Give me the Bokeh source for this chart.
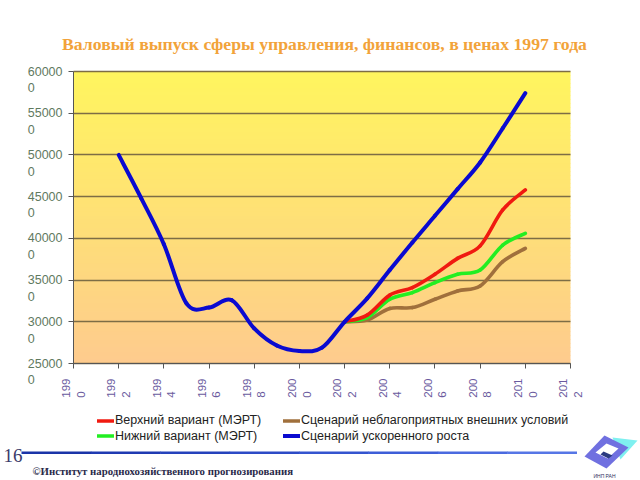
import math
from bokeh.plotting import figure
from bokeh.models import (Range1d, FixedTicker, BoxAnnotation, PolyAnnotation, Legend,
                          LegendItem, Label)
from bokeh.embed import file_html
from bokeh.resources import INLINE

# ---------------- data ----------------
title_text = "Валовый выпуск сферы управления, финансов, в ценах 1997 года"
years_fast = list(range(1992, 2011))
fast = [500000, 448000, 393000, 322000, 317000, 326000, 292000, 271500, 265000, 269000,
        300000, 328000, 362000, 395000, 427000, 459000, 491000, 532000, 574000]
years_mert = list(range(2002, 2011))
upper = [300000, 308000, 332000, 341000, 357000, 376000, 391000, 434000, 458000]
lower = [300000, 305000, 327000, 335000, 347000, 357000, 362000, 392000, 406000]
adverse = [300000, 302000, 316000, 317000, 327000, 337000, 343000, 372000, 388000]
x_ticks = list(range(1990, 2013, 2))
y_ticks = list(range(250000, 600001, 50000))
name_upper = "Верхний вариант (МЭРТ)"
name_adverse = "Сценарий неблагоприятных внешних условий"
name_lower = "Нижний вариант (МЭРТ)"
name_fast = "Сценарий ускоренного роста"
page_number = "16"
footer_text = "©Институт народнохозяйственного прогнозирования"
logo_text = "ИНП РАН"

# ---------------- layout ----------------
W, H = 640, 480
# plot area inside the canvas (pixels from the top-left)
PL, PT, PR, PB = 73, 71, 570, 363
X0, X1 = x_ticks[0], x_ticks[-1]
Y0, Y1 = y_ticks[0], y_ticks[-1]
xs_per_px = (X1 - X0) / (PR - PL)
ys_per_px = (Y1 - Y0) / (PB - PT)

p = figure(width=W, height=H, output_backend="svg", toolbar_location=None,
           x_range=Range1d(X0 - PL * xs_per_px, X1 + (W - PR) * xs_per_px),
           y_range=Range1d(Y0 - (H - PB) * ys_per_px, Y1 + PT * ys_per_px),
           min_border=0, min_border_left=0, min_border_right=0,
           min_border_top=0, min_border_bottom=0)
p.title.visible = False
p.outline_line_color = None
p.border_fill_color = "white"
p.background_fill_color = "white"


def sx(px):
    return px


def sy(py):
    return H - py


# gradient background of the plot area (decorative)
top_c = (255, 245, 94)
bot_c = (254, 203, 142)
N = 73
for i in range(N):
    t = (i + 0.5) / N
    c = tuple(int(round(bot_c[k] + (top_c[k] - bot_c[k]) * t)) for k in range(3))
    b = Y0 + (Y1 - Y0) * i / N
    tp = Y0 + (Y1 - Y0) * (i + 1) / N
    p.add_layout(BoxAnnotation(left=X0, right=X1, bottom=b, top=min(tp + 600, Y1),
                               fill_color="#%02x%02x%02x" % c, fill_alpha=1.0,
                               line_alpha=0, level="image"))

NB = "\u00a0"  # keeps the wrapped remainder of a label at the start of its line


def wrap_label(s, n):
    head, tail = s[:n], s[n:]
    pad = NB * (2 * (len(head) - len(tail)))
    return head + "\n" + tail + pad


# axes drawn at fixed locations
p.xaxis.fixed_location = Y0
p.yaxis.fixed_location = X0
p.xaxis.bounds = (X0, X1)
p.yaxis.bounds = (Y0, Y1)
p.xaxis.ticker = FixedTicker(ticks=x_ticks)
p.xaxis.major_label_overrides = {t: wrap_label(str(t), 3) for t in x_ticks}
p.xaxis.major_label_orientation = math.pi / 2
p.xaxis.major_label_text_font = "Liberation Sans"
p.xaxis.major_label_text_font_size = "11.5px"
p.xaxis.major_label_text_color = "#6a5a9e"
p.xaxis.major_label_standoff = 10
p.yaxis.ticker = FixedTicker(ticks=y_ticks)
p.yaxis.major_label_overrides = {v: "\n" + wrap_label(str(v), 5) for v in y_ticks}
p.yaxis.major_label_text_font = "Liberation Sans"
p.yaxis.major_label_text_font_size = "12.5px"
p.yaxis.major_label_text_color = "#5f7a5f"
p.yaxis.major_label_standoff = 6
for ax in (p.xaxis, p.yaxis):
    ax.axis_line_color = "#555555"
    ax.major_tick_line_color = "#555555"
    ax.major_tick_out = 5
    ax.major_tick_in = 0
    ax.minor_tick_line_color = None
p.xgrid.visible = False

grid_ok = False
try:
    p.ygrid.cross_bounds = (X0, X1)
    p.ygrid.bounds = (Y0, Y1)
    grid_ok = True
except Exception:
    grid_ok = False
if grid_ok:
    p.ygrid.ticker = FixedTicker(ticks=y_ticks)
    p.ygrid.grid_line_color = "#7d6d45"
    p.ygrid.grid_line_width = 1.3
else:
    p.ygrid.visible = False
    p.segment(x0=[X0] * len(y_ticks), x1=[X1] * len(y_ticks), y0=y_ticks, y1=y_ticks,
              line_color="#7d6d45", line_width=1.3)


def smooth(xs, ys):
    n = len(xs)
    d = dict(x0=[], y0=[], x1=[], y1=[], cx0=[], cy0=[], cx1=[], cy1=[])
    for i in range(n - 1):
        a = max(i - 1, 0)
        b = min(i + 2, n - 1)
        d["x0"].append(xs[i]); d["y0"].append(ys[i])
        d["x1"].append(xs[i + 1]); d["y1"].append(ys[i + 1])
        d["cx0"].append(xs[i] + (xs[i + 1] - xs[a]) / 6.0)
        d["cy0"].append(ys[i] + (ys[i + 1] - ys[a]) / 6.0)
        d["cx1"].append(xs[i + 1] - (xs[b] - xs[i]) / 6.0)
        d["cy1"].append(ys[i + 1] - (ys[b] - ys[i]) / 6.0)
    return d


def curve(xs, ys, color, width):
    return p.bezier(line_color=color, line_width=width, line_cap="round", **smooth(xs, ys))


r_adverse = curve(years_mert, adverse, "#a0703c", 3.6)
r_lower = curve(years_mert, lower, "#22ee22", 3.6)
r_upper = curve(years_mert, upper, "#f01a10", 3.6)
r_fast = curve(years_fast, fast, "#0a0ad0", 4.0)

# ---------------- legend (one box per entry, two columns) ----------------
def add_legend(label, renderer, px, py_center):
    lg = Legend(items=[LegendItem(label=label, renderers=[renderer])],
                location=(sx(px), sy(py_center + 7.5)),
                label_text_font="Liberation Sans", label_text_font_size="12.5px",
                label_text_color="#222222", glyph_width=17, glyph_height=15,
                label_height=15, label_standoff=1, spacing=0, padding=0, margin=0,
                border_line_color=None, background_fill_alpha=0)
    p.add_layout(lg, "center")


add_legend(name_upper, r_upper, 97, 420)
add_legend(name_lower, r_lower, 97, 435.5)
add_legend(name_adverse, r_adverse, 283, 420)
add_legend(name_fast, r_fast, 283, 435.5)

# ---------------- title ----------------
p.add_layout(Label(x=sx(324), y=sy(43), x_units="screen", y_units="screen", text=title_text,
                   text_align="center", text_baseline="middle", text_font="Liberation Serif",
                   text_font_style="bold", text_font_size="17.7px", text_color="#F2A33A"))

# ---------------- footer ----------------
p.add_layout(Label(x=sx(3), y=sy(455), x_units="screen", y_units="screen", text=page_number,
                   text_align="left", text_baseline="middle", text_font="Liberation Serif",
                   text_font_size="19px", text_color="#3a3a6a"))
line_cols = ["#1a34a8", "#1f3ab2", "#2542bc", "#2c4ac6", "#3454cf", "#3e5ed8",
             "#4a6ae0", "#5676e6"]
seg_w = (576 - 21) / len(line_cols)
for k, col in enumerate(line_cols):
    p.add_layout(BoxAnnotation(left=sx(21 + k * seg_w), right=sx(21 + (k + 1) * seg_w + 0.5),
                               top=sy(451), bottom=sy(453.5),
                               left_units="screen", right_units="screen",
                               bottom_units="screen", top_units="screen",
                               fill_color=col, fill_alpha=1.0, line_alpha=0))
p.add_layout(Label(x=sx(32), y=sy(470), x_units="screen", y_units="screen", text=footer_text,
                   text_align="left", text_baseline="middle", text_font="Liberation Serif",
                   text_font_style="bold", text_font_size="10.8px", text_color="#2a2a4a"))


def poly(pts, color):
    p.add_layout(PolyAnnotation(xs=[sx(a) for a, b in pts], ys=[sy(b) for a, b in pts],
                                xs_units="screen", ys_units="screen",
                                fill_color=color, fill_alpha=1.0, line_alpha=0))


poly([(612, 437), (637, 440), (620, 459)], "#7ff0f0")
poly([(584, 456), (604, 435), (628, 447), (606, 468)], "#7070e0")
poly([(595, 452), (606, 443), (618, 448), (607, 458)], "white")
poly([(600, 454), (603, 451), (612, 455), (608, 458)], "#2a3a80")
p.add_layout(Label(x=sx(604), y=sy(475), x_units="screen", y_units="screen", text=logo_text,
                   text_align="center", text_baseline="middle", text_font="Liberation Sans",
                   text_font_size="5px", text_color="#303060"))

open("out.html", "w").write(file_html(p, INLINE))
